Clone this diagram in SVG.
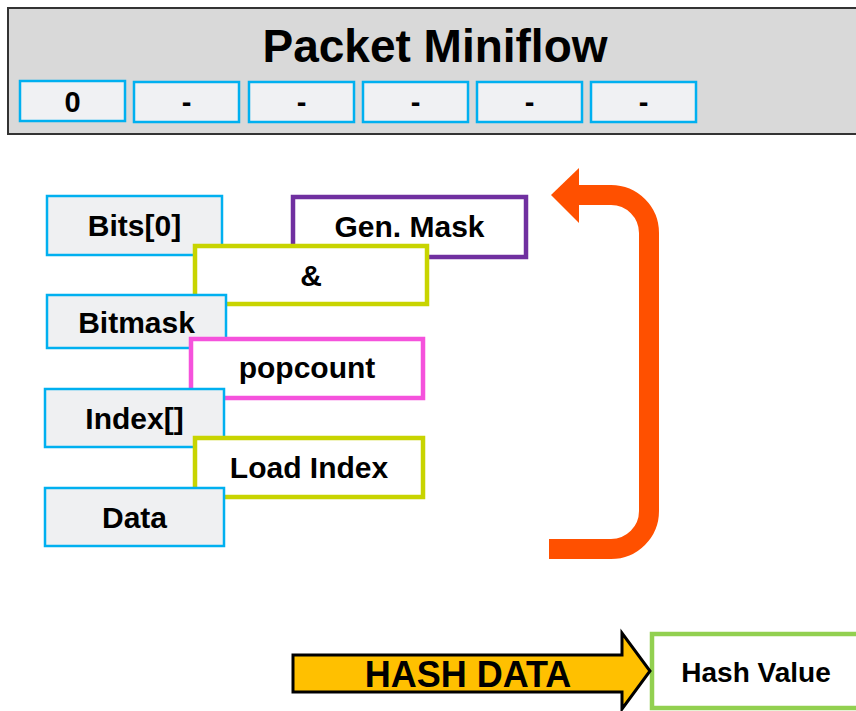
<svg xmlns="http://www.w3.org/2000/svg" width="856" height="711" viewBox="0 0 856 711">
  <style>
    text { font-family: "Liberation Sans", Arial, sans-serif; font-weight: bold; fill: #000; text-anchor: middle; }
    .slot { fill: #f0f1f3; stroke: #00b0f0; stroke-width: 2.5; }
    .reg { fill: #eff0f2; stroke: #00b0f0; stroke-width: 2.5; }
    .op { fill: #ffffff; stroke-width: 4.5; }
    .lbl { font-size: 30px; }
    .slotlbl { font-size: 29px; }
  </style>

  <!-- Packet miniflow header -->
  <g id="miniflow">
    <rect x="8" y="8" width="852" height="126" fill="#d9d9d9" stroke="#333333" stroke-width="2"/>
    <text x="435" y="62" font-size="46">Packet Miniflow</text>
    <rect class="slot" x="20" y="81" width="105" height="40"/>
    <text class="slotlbl" x="72.5" y="112">0</text>
    <rect class="slot" x="134" y="82" width="105" height="40"/>
    <text class="slotlbl" x="186.5" y="112">-</text>
    <rect class="slot" x="249" y="82" width="105" height="40"/>
    <text class="slotlbl" x="301.5" y="112">-</text>
    <rect class="slot" x="363" y="82" width="105" height="40"/>
    <text class="slotlbl" x="415.5" y="112">-</text>
    <rect class="slot" x="477" y="82" width="105" height="40"/>
    <text class="slotlbl" x="529.5" y="112">-</text>
    <rect class="slot" x="591" y="82" width="105" height="40"/>
    <text class="slotlbl" x="643.5" y="112">-</text>
  </g>

  <!-- Stacked steps, drawn in overlap order -->
  <g id="bits0">
    <rect class="reg" x="47" y="196" width="175" height="59"/>
    <text class="lbl" x="134.5" y="236">Bits[0]</text>
  </g>
  <g id="genmask">
    <rect class="op" x="293" y="197" width="233" height="60" stroke="#7030a0"/>
    <text class="lbl" x="409.5" y="237">Gen. Mask</text>
  </g>
  <g id="and">
    <rect class="op" x="195" y="246" width="232" height="58" stroke="#c8d400"/>
    <text class="lbl" x="311" y="286">&amp;</text>
  </g>
  <g id="bitmask">
    <rect class="reg" x="47" y="295" width="179" height="53"/>
    <text class="lbl" x="136.5" y="333">Bitmask</text>
  </g>
  <g id="popcount">
    <rect class="op" x="191" y="339" width="232" height="59" stroke="#f552dc"/>
    <text class="lbl" x="307" y="378">popcount</text>
  </g>
  <g id="index">
    <rect class="reg" x="45" y="389" width="179" height="58"/>
    <text class="lbl" x="134.5" y="429">Index[]</text>
  </g>
  <g id="loadindex">
    <rect class="op" x="195" y="438" width="228" height="59" stroke="#c8d400"/>
    <text class="lbl" x="309" y="478">Load Index</text>
  </g>
  <g id="data">
    <rect class="reg" x="45" y="488" width="179" height="58"/>
    <text class="lbl" x="134.5" y="528">Data</text>
  </g>

  <!-- Hash value result -->
  <g id="hashvalue">
    <rect x="652" y="634" width="210" height="74" fill="#ffffff" stroke="#92d050" stroke-width="4.5"/>
    <text x="756" y="682" font-size="28">Hash Value</text>
  </g>

  <!-- Connectors -->
  <g id="connectors">
    <!-- loop back arrow -->
    <path d="M549,549 H611 A38,38 0 0 0 649,511 V233 A38,38 0 0 0 611,195 H578" fill="none" stroke="#ff5000" stroke-width="20"/>
    <polygon points="579,168 551,195 579,223" fill="#ff5000"/>
    <!-- hash data block arrow -->
    <polygon points="293,655 622,655 622,633 650,671 622,709 622,692 293,692" fill="#ffc000" stroke="#000000" stroke-width="3" stroke-linejoin="miter"/>
    <text x="468" y="687" font-size="36">HASH DATA</text>
  </g>
</svg>
